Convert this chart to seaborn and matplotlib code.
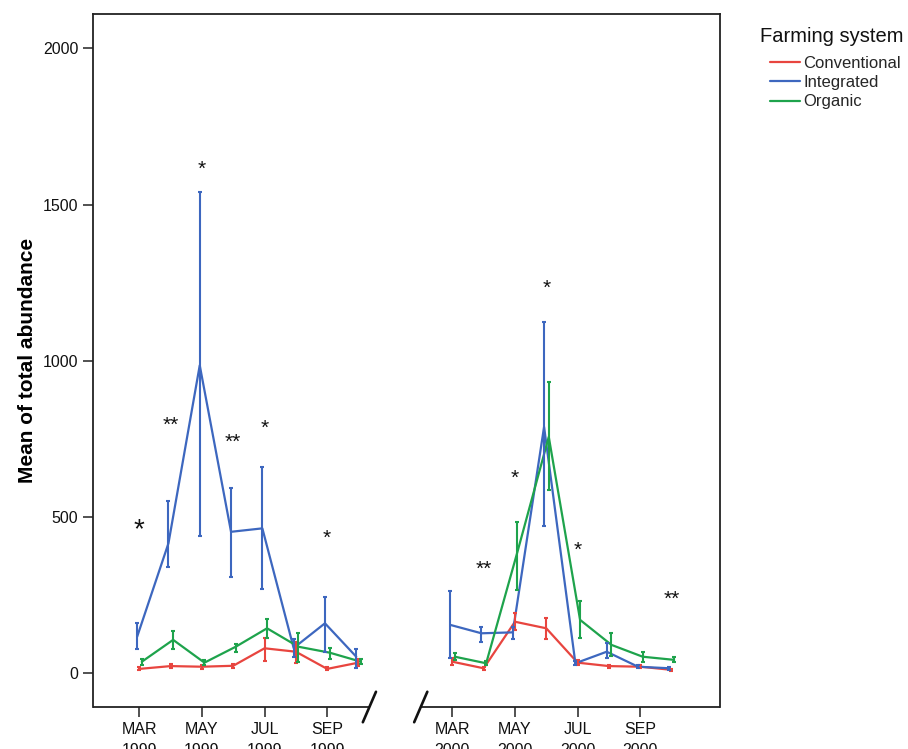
import numpy as np
import pandas as pd
import matplotlib
matplotlib.use("Agg")
import matplotlib.pyplot as plt
import seaborn as sns

sns.set_theme(style="white")
plt.rcParams["font.family"] = ["Liberation Sans", "DejaVu Sans"]

# Sampling months and years
months = ["MAR", "APR", "MAY", "JUN", "JUL", "AUG", "SEP", "OCT"]
years = [1999, 2000]
systems = ["Conventional", "Integrated", "Organic"]

# Mean total abundance per month (1999 then 2000) and error-bar limits
conv_mean = [13, 22, 20, 23, 79, 68, 13, 33, 36, 15, 164, 143, 33, 22, 20, 10]
conv_low = [8, 15, 14, 17, 39, 33, 8, 22, 25, 10, 138, 108, 26, 17, 15, 6]
conv_high = [18, 29, 26, 29, 111, 100, 18, 44, 47, 20, 191, 175, 40, 27, 25, 14]

integ_mean = [116, 415, 985, 452, 463, 80, 159, 52, 154, 127, 130, 788, 31, 68, 20, 15]
integ_low = [76, 338, 438, 308, 268, 50, 68, 15, 47, 100, 110, 471, 25, 47, 15, 10]
integ_high = [159, 551, 1540, 591, 660, 110, 244, 76, 262, 148, 148, 1124, 37, 95, 25, 20]

org_mean = [36, 106, 33, 84, 143, 84, 65, 36, 52, 31, 388, 756, 170, 90, 52, 42]
org_low = [27, 76, 25, 68, 111, 36, 46, 28, 40, 24, 266, 585, 111, 54, 36, 34]
org_high = [46, 135, 42, 93, 172, 127, 79, 44, 64, 38, 484, 932, 231, 127, 68, 50]

# Significance marks: (month, year, text, height of the mark)
sig_marks = [
    ("MAR", 1999, "*", 471), ("APR", 1999, "**", 812), ("MAY", 1999, "*", 1632),
    ("JUN", 1999, "**", 758), ("JUL", 1999, "*", 802), ("SEP", 1999, "*", 452),
    ("APR", 2000, "**", 351), ("MAY", 2000, "*", 642), ("JUN", 2000, "*", 1252),
    ("JUL", 2000, "*", 412), ("OCT", 2000, "**", 257),
]

tick_months = ["MAR", "MAY", "JUL", "SEP"]

palette = {"Conventional": "#E8453F", "Integrated": "#3D67BF", "Organic": "#1EA34C"}
dodge = {"Conventional": 0.0, "Integrated": -0.07, "Organic": 0.08}

year_offset = {1999: 0, 2000: 10}


def month_pos(month, year):
    return months.index(month) + year_offset[year]


rows = []
series = {
    "Conventional": (conv_mean, conv_low, conv_high),
    "Integrated": (integ_mean, integ_low, integ_high),
    "Organic": (org_mean, org_low, org_high),
}
for sysname, (mean, low, high) in series.items():
    i = 0
    for yr in years:
        for m in months:
            rows.append({
                "system": sysname, "year": yr, "month": m,
                "pos": month_pos(m, yr) + dodge[sysname],
                "mean": mean[i], "low": low[i], "high": high[i],
            })
            i += 1
df = pd.DataFrame(rows)

W, H = 908, 749
fig = plt.figure(figsize=(W / 100, H / 100), dpi=100)
ax = fig.add_axes([93 / W, 1 - 707 / H, (720 - 93) / W, (707 - 14) / H])

sns.lineplot(data=df, x="pos", y="mean", hue="system", units="year",
             estimator=None, palette=palette, hue_order=systems,
             linewidth=1.6, ax=ax, legend=False)

for sysname in systems:
    d = df[df.system == sysname]
    ax.errorbar(d["pos"], d["mean"],
                yerr=[d["mean"] - d["low"], d["high"] - d["mean"]],
                fmt="none", ecolor=palette[sysname], elinewidth=1.5,
                capsize=1.3, capthick=1.5)

xmin, xmax = -1.48, 18.55
ax.set_xlim(xmin, xmax)
ax.set_ylim(-109, 2110)

ax.set_yticks([0, 500, 1000, 1500, 2000])
ax.set_yticklabels(["0", "500", "1000", "1500", "2000"])
xt = [month_pos(m, y) for y in years for m in tick_months]
xl = [f"{m}\n{y}" for y in years for m in tick_months]
ax.set_xticks(xt)
ax.set_xticklabels(xl, linespacing=1.55)
ax.tick_params(axis="both", which="major", direction="out", length=7,
               width=1.1, color="#222222", labelsize=11.5,
               labelcolor="#111111", pad=3.5, bottom=True, left=True)

ax.set_xlabel("")
ax.set_ylabel("Mean of total abundance", fontsize=15, fontweight="bold",
              color="black", labelpad=4)

for side in ["left", "top", "right"]:
    ax.spines[side].set_color("#222222")
    ax.spines[side].set_linewidth(1.3)
ax.spines["bottom"].set_visible(False)

# Broken bottom axis with slash marks between the two years
xt_tr = ax.get_xaxis_transform()
brk1, brk2 = 7.35, 8.99
ax.plot([xmin, brk1], [0, 0], color="#222222", lw=1.3, transform=xt_tr,
        clip_on=False, solid_capstyle="butt")
ax.plot([brk2, xmax], [0, 0], color="#222222", lw=1.3, transform=xt_tr,
        clip_on=False, solid_capstyle="butt")
for b in (brk1, brk2):
    ax.plot([b - 0.21, b + 0.21], [-0.022, 0.022], color="#111111", lw=1.9,
            transform=xt_tr, clip_on=False)

for m, yr, txt, yv in sig_marks:
    size = 20 if (m == "MAR" and yr == 1999) else 15
    ax.annotate(txt, (month_pos(m, yr), yv), xytext=(0, -8.5),
                textcoords="offset points", ha="center", va="baseline",
                fontsize=size, color="#111111")

# Legend placed to the right of the axes
handles = [plt.Line2D([], [], color=palette[s], lw=1.6) for s in systems]
fig.text(760 / W, 1 - 36 / H, "Farming system", fontsize=14.5,
         ha="left", va="center", color="#111111")
fig.legend(handles, systems, loc="upper left",
           bbox_to_anchor=(770 / W, 1 - 56 / H), frameon=False,
           fontsize=12, handlelength=1.8, handletextpad=0.2,
           labelspacing=0.25, borderpad=0, borderaxespad=0)

fig.savefig("out.png", dpi=100)
